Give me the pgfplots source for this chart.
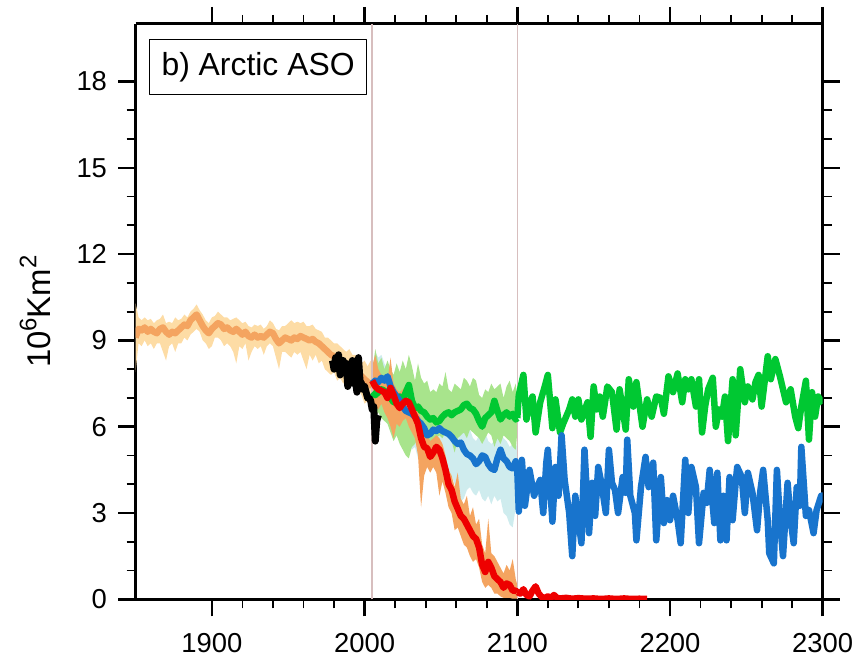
\documentclass[border=0pt]{standalone}
\usepackage{fontspec}
\setmainfont{Liberation Sans}
\usepackage{pgfplots}
\pgfplotsset{compat=1.18}
\usepackage{pgfplotstable}
\usepgfplotslibrary{fillbetween}

\definecolor{histband}{RGB}{253,220,165}
\definecolor{sandy}{RGB}{244,164,96}
\definecolor{rcpred}{RGB}{238,0,0}
\definecolor{rcpblue}{RGB}{24,116,205}
\definecolor{rcpgreen}{RGB}{0,200,50}
\definecolor{greenband}{RGB}{168,228,140}
\definecolor{cyanband}{RGB}{207,236,238}
\definecolor{vline}{RGB}{215,190,190}

\pgfplotstableread{
year lo mean hi
1850 7.9 9.1 10.3
1852 8.9 9.4 9.8
1854 8.8 9.35 9.7
1856 9.0 9.45 9.8
1858 8.8 9.3 9.7
1860 8.9 9.4 9.75
1862 8.7 9.3 9.6
1864 8.9 9.25 9.7
1866 8.9 9.4 9.75
1868 8.6 9.45 9.9
1870 8.3 9.3 9.6
1872 8.8 9.2 9.65
1874 8.9 9.3 9.6
1876 8.6 9.25 9.8
1878 8.9 9.35 9.7
1880 8.9 9.45 9.75
1882 9.1 9.55 9.9
1884 9.0 9.5 9.8
1886 9.2 9.7 10.0
1888 9.3 9.8 10.1
1890 9.4 9.9 10.25
1892 9.3 9.7 10.05
1894 9.0 9.5 9.9
1896 8.9 9.35 9.7
1898 8.7 9.25 9.6
1900 8.8 9.4 9.8
1902 9.1 9.5 9.85
1904 9.1 9.6 10.0
1906 9.0 9.55 9.9
1908 8.8 9.4 9.8
1910 8.9 9.45 9.8
1912 8.8 9.35 9.7
1914 8.6 9.3 9.75
1916 8.2 9.4 9.8
1918 8.8 9.3 9.7
1920 8.7 9.2 9.6
1922 8.9 9.3 9.65
1924 8.3 9.15 9.5
1926 8.6 9.1 9.45
1928 8.8 9.2 9.55
1930 8.7 9.1 9.5
1932 8.8 9.15 9.55
1934 8.5 9.1 9.4
1936 8.8 9.2 9.5
1938 8.9 9.3 9.7
1940 8.8 9.25 9.6
1942 8.4 9.05 9.4
1944 8.0 8.9 9.35
1946 8.6 9.0 9.5
1948 8.6 9.1 9.5
1950 8.5 9.05 9.6
1952 8.4 9.0 9.7
1954 8.6 9.1 9.6
1956 8.5 9.05 9.65
1958 8.6 9.15 9.6
1960 8.3 9.1 9.65
1962 8.0 9.05 9.5
1964 8.5 9.0 9.5
1966 8.3 9.05 9.55
1968 8.5 8.95 9.4
1970 8.2 8.9 9.35
1972 8.3 8.8 9.3
1974 8.0 8.7 9.1
1976 7.9 8.6 9.1
1978 7.8 8.5 9.0
1980 7.9 8.45 8.9
1982 7.6 8.35 8.9
1984 7.7 8.3 8.8
1986 7.5 8.25 8.7
1988 7.6 8.15 8.6
1990 7.3 8.05 8.7
1992 7.5 8.0 8.5
1994 7.2 7.9 8.5
1996 7.3 7.8 8.3
1998 7.1 7.75 8.2
2000 6.8 7.65 8.3
2002 6.9 7.55 8.1
2004 6.8 7.45 8.3
2005 6.9 7.4 8.0
}\hist

\pgfplotstableread{
year val
1979 8.3
1980 8.0
1981 8.4
1982 8.1
1983 8.5
1984 7.8
1985 8.1
1986 8.3
1987 8.0
1988 8.2
1989 7.4
1990 7.7
1991 7.8
1992 8.3
1993 7.5
1994 7.6
1995 7.2
1996 8.4
1997 7.6
1998 7.5
1999 7.3
2000 7.4
2001 7.2
2002 7.0
2003 7.0
2004 6.9
2005 6.6
2006 6.7
2007 5.5
2008 6.2
2009 6.4
}\obs

\pgfplotstableread{
year lo mean hi
2005 7.0 7.6 8.1
2007 6.7 7.4 8.5
2009 6.6 7.3 8.0
2011 6.8 7.25 7.8
2013 6.5 7.2 7.7
2015 6.3 7.0 7.6
2017 6.0 7.35 8.4
2019 5.6 7.1 7.5
2021 6.1 6.8 7.3
2023 6.0 6.65 7.2
2025 6.2 6.8 7.3
2027 6.3 6.9 7.4
2029 6.0 6.85 7.4
2031 5.8 6.6 7.0
2033 5.6 6.35 6.9
2035 5.0 6.1 6.6
2037 3.2 5.6 6.2
2039 4.3 5.3 5.9
2041 4.6 5.25 5.7
2043 4.4 4.95 5.5
2045 4.6 5.1 5.6
2047 4.4 5.3 5.7
2049 3.6 5.2 5.6
2051 4.1 4.9 5.4
2053 3.7 4.5 5.0
2055 3.2 4.0 4.5
2057 3.0 3.8 4.3
2059 2.4 3.4 3.9
2061 2.5 3.15 4.4
2063 2.2 2.9 3.5
2065 1.9 2.8 3.3
2067 1.8 2.6 3.6
2069 1.5 2.4 2.9
2071 1.3 2.2 3.2
2073 1.4 2.1 2.6
2075 1.1 1.8 2.8
2077 0.6 1.2 1.9
2079 0.4 0.95 1.6
2081 0.5 1.3 2.8
2083 0.4 1.1 1.6
2085 0.2 0.8 1.5
2087 0.2 0.7 1.3
2089 0.1 0.6 1.1
2091 0.05 0.4 0.9
2093 0.05 0.55 1.2
2095 0.05 0.5 1.0
2097 0.02 0.3 1.4
2099 0.02 0.3 0.7
2100 0.02 0.25 0.5
}\rcpA

\pgfplotstableread{
year lo mean hi
2005 6.8 7.5 8.0
2007 6.6 7.6 8.6
2009 6.7 7.55 8.4
2011 6.6 7.7 8.5
2013 6.5 7.6 8.2
2015 6.4 7.75 8.0
2017 6.3 7.4 7.9
2019 6.1 7.2 7.8
2021 6.0 7.05 7.6
2023 5.8 6.9 7.6
2025 5.6 6.7 7.4
2027 5.4 6.55 7.3
2029 5.5 6.5 7.2
2031 5.2 6.45 7.0
2033 5.3 6.35 7.0
2035 4.9 6.2 6.8
2037 5.0 6.1 6.7
2039 4.8 5.95 6.6
2041 4.6 5.7 6.5
2043 4.7 5.75 6.5
2045 4.8 5.9 6.4
2047 4.6 5.85 6.5
2049 4.4 5.95 6.6
2051 4.6 5.85 6.4
2053 4.5 5.8 6.5
2055 4.2 5.75 6.3
2057 4.3 5.65 6.2
2059 4.0 5.5 6.1
2061 3.6 5.4 6.0
2063 3.4 5.45 6.2
2065 3.5 5.2 5.9
2067 3.8 5.05 5.8
2069 3.9 5.0 5.9
2071 3.7 4.9 5.6
2073 3.6 4.7 5.5
2075 3.8 4.8 5.7
2077 3.5 5.0 5.6
2079 3.4 4.95 5.8
2081 3.6 4.7 5.5
2083 3.3 4.55 5.4
2085 3.6 4.5 5.5
2087 3.4 4.9 5.7
2089 3.5 5.2 5.8
2091 3.0 4.9 5.6
2093 2.9 4.8 5.5
2095 2.6 4.6 5.3
2097 2.5 4.55 5.4
2099 3.2 4.8 5.5
2100 3.5 4.5 5.2
}\rcpB

\pgfplotstableread{
year lo mean hi
2005 6.6 7.2 7.8
2007 6.4 7.1 8.7
2009 6.5 7.2 8.2
2011 6.3 7.3 8.4
2013 6.2 7.25 8.0
2015 6.1 7.1 8.3
2017 5.8 7.0 8.0
2019 5.5 6.85 7.8
2021 5.7 7.0 8.2
2023 5.4 7.05 7.9
2025 5.2 6.9 8.3
2027 5.0 7.2 8.0
2029 4.9 7.45 8.5
2031 5.3 6.9 8.1
2033 5.4 6.65 7.6
2035 5.6 6.7 8.2
2037 5.5 6.55 7.7
2039 5.4 6.5 7.5
2041 5.6 6.35 7.6
2043 5.5 6.25 7.2
2045 5.3 6.3 7.3
2047 5.6 6.15 7.2
2049 5.7 6.2 7.5
2051 5.6 6.35 7.4
2053 5.8 6.45 7.9
2055 5.7 6.5 7.3
2057 5.5 6.4 7.2
2059 5.1 6.5 7.5
2061 5.6 6.55 7.4
2063 5.7 6.6 7.3
2065 5.8 6.75 7.7
2067 5.6 6.8 7.6
2069 5.9 6.65 7.4
2071 5.8 6.6 7.7
2073 5.7 6.45 7.6
2075 5.6 6.2 7.1
2077 5.4 6.0 7.0
2079 5.6 6.3 7.3
2081 5.8 6.4 7.2
2083 5.7 6.5 7.5
2085 5.3 6.9 7.3
2087 5.6 6.55 7.4
2089 5.4 6.25 7.5
2091 5.7 6.4 7.0
2093 5.6 6.5 7.4
2095 5.5 6.35 7.6
2097 5.3 6.45 7.2
2099 5.2 6.25 7.5
2100 5.8 6.3 7.0
}\rcpC

\pgfplotstableread{
year val
2100 0.25
2102 0.2
2104 0.35
2106 0.15
2108 0.1
2110 0.3
2112 0.45
2114 0.2
2116 0.08
2118 0.05
2120 0.1
2122 0.05
2124 0.15
2126 0.05
2128 0.03
2132 0.05
2136 0.02
2140 0.04
2145 0.02
2150 0.03
2155 0.01
2160 0.03
2165 0.01
2170 0.03
2175 0.01
2180 0.02
2185 0.01
}\extA

\pgfplotstableread{
year val
2100 4.5
2101 3.05
2103 4.85
2105 3.25
2108 4.5
2111 3.6
2113 3.9
2115 4.15
2117 3.0
2119 4.75
2120 5.2
2123 2.7
2125 4.6
2127 3.6
2129 5.7
2131 4.15
2134 3.0
2136 1.5
2138 3.6
2140 2.75
2142 1.95
2144 5.2
2147 2.3
2149 4.05
2151 2.9
2153 4.6
2155 4.05
2158 3.0
2160 5.2
2162 4.05
2164 3.8
2166 3.0
2169 4.25
2171 3.7
2172 5.55
2174 3.6
2177 3.0
2178 2.05
2181 3.9
2184 4.95
2186 3.9
2189 4.75
2191 2.05
2194 4.25
2196 2.65
2198 3.45
2200 2.75
2202 3.6
2205 2.75
2207 1.95
2210 4.85
2212 3.0
2214 4.6
2217 3.9
2219 1.95
2222 3.7
2224 3.35
2226 4.5
2229 2.65
2231 4.4
2233 2.05
2235 3.6
2237 2.05
2239 4.25
2241 2.75
2243 4.05
2244 4.6
2247 4.25
2249 3.0
2251 4.4
2254 3.7
2257 2.4
2259 3.7
2261 4.5
2264 2.75
2265 1.6
2268 1.25
2270 4.5
2272 2.75
2274 1.5
2277 4.05
2279 2.75
2281 1.95
2283 3.9
2285 3.25
2286 5.3
2289 2.9
2291 3.1
2294 2.3
2296 3.1
2299 3.6
2300 3.6
}\extB

\pgfplotstableread{
year val
2100 6.3
2101 7.1
2104 7.8
2106 6.25
2108 6.8
2110 7.05
2112 5.8
2115 6.85
2118 7.4
2120 7.8
2123 5.95
2125 6.95
2128 5.8
2130 6.1
2134 6.6
2136 6.95
2138 6.35
2140 6.95
2142 6.25
2146 6.85
2148 5.65
2150 7.4
2152 6.6
2154 7.05
2156 6.35
2159 7.4
2162 7.2
2165 5.9
2167 7.3
2171 5.9
2173 7.65
2176 6.7
2178 7.55
2182 6.0
2185 6.95
2188 6.35
2191 7.05
2194 7.0
2196 6.45
2199 7.75
2202 7.2
2205 7.85
2208 6.85
2210 7.65
2212 7.3
2214 7.65
2217 6.7
2219 7.65
2221 5.8
2223 6.7
2225 7.3
2228 7.7
2230 6.0
2232 6.6
2234 6.35
2236 7.05
2238 5.5
2241 7.65
2243 5.7
2246 8.0
2249 6.85
2251 7.4
2254 6.95
2256 7.55
2258 7.8
2260 6.7
2264 8.45
2266 7.65
2269 8.35
2272 7.75
2276 6.85
2279 7.3
2282 6.35
2284 5.95
2286 6.7
2289 7.6
2291 5.55
2293 7.2
2295 6.35
2297 7.05
2300 6.8
}\extC

\begin{document}
\begin{tikzpicture}
\begin{axis}[
  at={(135.5bp,63.7bp)}, anchor=south west,
  scale only axis, width=687.2bp, height=575.3bp,
  xmin=1850, xmax=2300, ymin=0, ymax=20,
  xtick={1900,2000,2100,2200,2300}, minor x tick num=4,
  ytick={0,3,6,9,12,15,18}, minor y tick num=2,
  tick align=outside,
  major tick length=17bp, minor tick length=9bp,
  major tick style={black, line width=2.6bp},
  minor tick style={black, line width=1.8bp},
  axis line style={black, line width=3bp},
  separate axis lines,
  every outer x axis line/.append style={line width=3bp},
  every outer y axis line/.append style={line width=3bp},
  tick label style={font=\fontsize{27.5}{30}\selectfont},
  xticklabel style={anchor=north, yshift=-14bp},
  yticklabel style={anchor=east, xshift=-8bp},
  /pgf/number format/assume math mode=true,
  /pgf/number format/1000 sep={},
  clip mode=individual,
  line join=round,
]
% historical band
\addplot[name path=hlo, draw=none, forget plot] table[x=year,y=lo]{\hist};
\addplot[name path=hhi, draw=none, forget plot] table[x=year,y=hi]{\hist};
\addplot[histband, draw=none, forget plot] fill between[of=hlo and hhi];
% rcp4.5 band
\addplot[name path=blo, draw=none, forget plot] table[x=year,y=lo]{\rcpB};
\addplot[name path=bhi, draw=none, forget plot] table[x=year,y=hi]{\rcpB};
\addplot[cyanband, draw=none, forget plot] fill between[of=blo and bhi];
% rcp2.6 band
\addplot[name path=glo, draw=none, forget plot] table[x=year,y=lo]{\rcpC};
\addplot[name path=ghi, draw=none, forget plot] table[x=year,y=hi]{\rcpC};
\addplot[greenband, draw=none, forget plot] fill between[of=glo and ghi];
% rcp8.5 band
\addplot[name path=rlo, draw=none, forget plot] table[x=year,y=lo]{\rcpA};
\addplot[name path=rhi, draw=none, forget plot] table[x=year,y=hi]{\rcpA};
\addplot[sandy, draw=none, forget plot] fill between[of=rlo and rhi];
% vertical lines
\addplot[vline, line width=1.5bp] coordinates {(2005,0) (2005,20)};
\addplot[vline, line width=1.5bp] coordinates {(2100,0) (2100,20)};
% lines
\addplot[sandy, line width=6.5bp] table[x=year,y=mean]{\hist};
\addplot[rcpgreen, line width=6.5bp] table[x=year,y=mean]{\rcpC};
\addplot[rcpgreen, line width=6.5bp] table[x=year,y=val]{\extC};
\addplot[rcpblue, line width=6.5bp] table[x=year,y=mean]{\rcpB};
\addplot[rcpblue, line width=6.5bp] table[x=year,y=val]{\extB};
\addplot[rcpred, line width=6.5bp] table[x=year,y=mean]{\rcpA};
\addplot[rcpred, line width=6.5bp] table[x=year,y=val]{\extA};
\addplot[black, line width=7bp] table[x=year,y=val]{\obs};
\node[draw=black, line width=1.5bp, fill=white, anchor=north west, minimum width=216.7bp, minimum height=55bp, inner sep=0pt, font=\fontsize{32}{34}\selectfont] at (rel axis cs:0.0196,0.974) {b) Arctic ASO};
\node[rotate=90, anchor=center, inner sep=0pt, font=\fontsize{33}{36}\selectfont] at (axis description cs:-0.146,0.5) {10\raisebox{0.42em}{\fontsize{24}{26}\selectfont 6}Km\raisebox{0.42em}{\fontsize{24}{26}\selectfont 2}};
\end{axis}
\pgfresetboundingbox
\path (0,0) rectangle (859bp,663bp);
\end{tikzpicture}
\end{document}
